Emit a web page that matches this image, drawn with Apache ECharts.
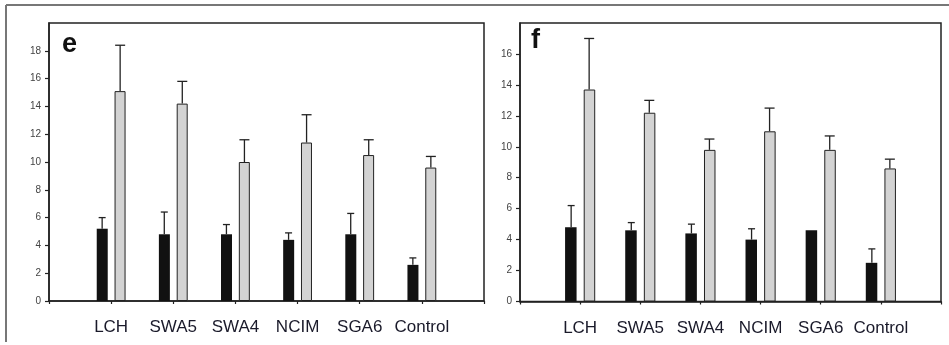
<!DOCTYPE html>
<html>
<head>
<meta charset="utf-8">
<script src="https://cdn.jsdelivr.net/npm/echarts@6/dist/echarts.min.js"></script>
<style>
  html, body { margin: 0; padding: 0; background: #fff; }
  #main { width: 949px; height: 345px; }
</style>
</head>
<body>
<div id="main"></div>
<script>
// categories shared by both panels
const categories = ['LCH', 'SWA5', 'SWA4', 'NCIM', 'SGA6', 'Control'];

// panel e
const eBlack = [5.2, 4.8, 4.8, 4.4, 4.8, 2.6];
const eBlackErr = [6.0, 6.4, 5.5, 4.9, 6.3, 3.1];
const eGray = [15.1, 14.2, 10.0, 11.4, 10.5, 9.6];
const eGrayErr = [18.4, 15.8, 11.6, 13.4, 11.6, 10.4];

// panel f
const fBlack = [4.8, 4.6, 4.4, 4.0, 4.6, 2.5];
const fBlackErr = [6.2, 5.1, 5.0, 4.7, null, 3.4];
const fGray = [13.7, 12.2, 9.8, 11.0, 9.8, 8.6];
const fGrayErr = [17.0, 13.0, 10.5, 12.5, 10.7, 9.2];

const myChart = echarts.init(document.getElementById('main'));

// pad one empty slot on each side so bars sit at 1..6 of 0..7
const axisCats = [''].concat(categories, ['']);
function pad(arr) { return [null].concat(arr, [null]); }

function errData(means, tops) {
  let out = [];
  means.forEach((m, i) => {
    if (tops[i] != null) out.push([i + 1, m, tops[i]]);
  });
  return out;
}

function errRender(offset, cap) {
  return function (params, api) {
    const base = api.coord([api.value(0), api.value(1)]);
    const top = api.coord([api.value(0), api.value(2)]);
    const x = base[0] + offset;
    const st = { stroke: '#222', lineWidth: 1.3 };
    return {
      type: 'group',
      children: [
        { type: 'line', shape: { x1: x, y1: base[1], x2: x, y2: top[1] }, style: st },
        { type: 'line', shape: { x1: x - cap, y1: top[1], x2: x + cap, y2: top[1] }, style: st }
      ]
    };
  };
}

function xAxisOf(idx) {
  return {
    type: 'category', gridIndex: idx, data: axisCats, boundaryGap: false,
    axisLine: { lineStyle: { color: '#222', width: 1.5 } },
    axisTick: { length: 3, lineStyle: { color: '#222', width: 1.2 } },
    axisLabel: { color: '#1a1a2a', fontSize: 17, margin: 18, fontFamily: 'Liberation Sans', interval: 0 },
    splitLine: { show: false }
  };
}

function yAxisOf(idx, max) {
  return {
    type: 'value', gridIndex: idx, min: 0, max: max, interval: 2,
    axisLine: { show: true, lineStyle: { color: '#222', width: 1.5 } },
    axisTick: { show: true, length: 4, lineStyle: { color: '#222', width: 1.2 } },
    axisLabel: { color: '#444', fontSize: 10, margin: 8, fontFamily: 'Liberation Sans', showMaxLabel: false },
    splitLine: { show: false }
  };
}

function barSeries(idx, data, color, width) {
  return {
    type: 'bar', xAxisIndex: idx, yAxisIndex: idx, data: pad(data),
    barWidth: width, barGap: '62%',
    itemStyle: { color: color, borderColor: '#222', borderWidth: color === '#111' ? 0 : 1 },
    silent: true
  };
}

const option = {
  animation: false,
  backgroundColor: '#fff',
  graphic: [
    { type: 'line', shape: { x1: 6, y1: 5, x2: 949, y2: 5 }, style: { stroke: '#777', lineWidth: 2 } },
    { type: 'line', shape: { x1: 6, y1: 5, x2: 6, y2: 342 }, style: { stroke: '#777', lineWidth: 2 } },
    { type: 'text', left: 62, top: 31, style: { text: 'e', fontSize: 27, fontWeight: 'bold', fill: '#111', fontFamily: 'Liberation Sans' } },
    { type: 'text', left: 531, top: 27, style: { text: 'f', fontSize: 27, fontWeight: 'bold', fill: '#111', fontFamily: 'Liberation Sans' } }
  ],
  grid: [
    { left: 49, top: 23, width: 435, height: 278, show: true, borderColor: '#222', borderWidth: 1.5, backgroundColor: 'transparent' },
    { left: 520, top: 23, width: 421, height: 278.5, show: true, borderColor: '#222', borderWidth: 1.5, backgroundColor: 'transparent' }
  ],
  xAxis: [xAxisOf(0), xAxisOf(1)],
  yAxis: [yAxisOf(0, 20), yAxisOf(1, 18)],
  series: [
    barSeries(0, eBlack, '#111', 11),
    barSeries(0, eGray, '#d3d3d3', 11),
    { type: 'custom', xAxisIndex: 0, yAxisIndex: 0, renderItem: errRender(-9, 3.5), data: errData(eBlack, eBlackErr), z: 3 },
    { type: 'custom', xAxisIndex: 0, yAxisIndex: 0, renderItem: errRender(9, 5), data: errData(eGray, eGrayErr), z: 3 },
    barSeries(1, fBlack, '#111', 11.5),
    barSeries(1, fGray, '#d3d3d3', 11.5),
    { type: 'custom', xAxisIndex: 1, yAxisIndex: 1, renderItem: errRender(-9, 3.5), data: errData(fBlack, fBlackErr), z: 3 },
    { type: 'custom', xAxisIndex: 1, yAxisIndex: 1, renderItem: errRender(9, 5), data: errData(fGray, fGrayErr), z: 3 }
  ]
};
myChart.setOption(option);
</script>
</body>
</html>
